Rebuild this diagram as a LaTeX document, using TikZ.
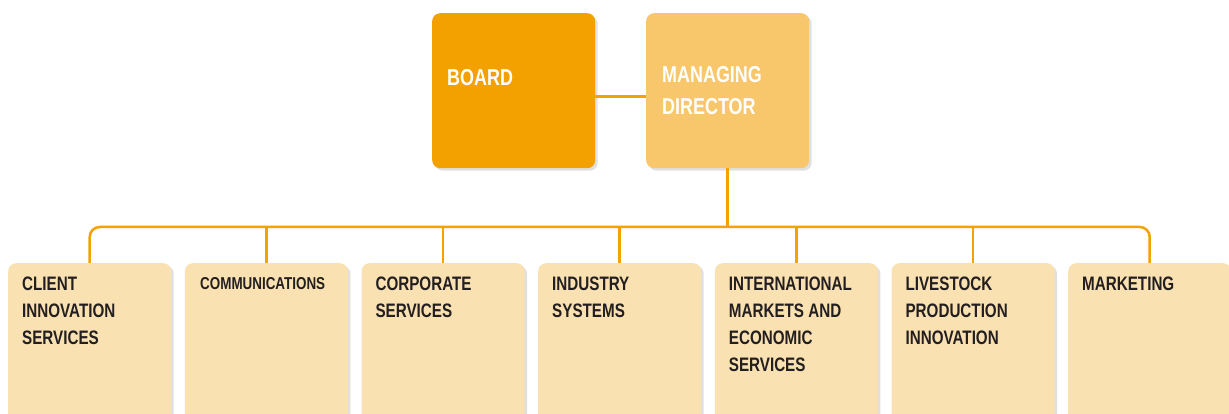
\documentclass[tikz,border=0pt]{standalone}
\usepackage{fontspec}
\newfontfamily\orgfont[FakeStretch=0.78]{Liberation Sans}
\usepackage{tikz}
\usetikzlibrary{shadows}
\definecolor{boardorange}{HTML}{F3A100}
\definecolor{mdorange}{HTML}{F8C66B}
\definecolor{unitcream}{HTML}{FAE1B2}
\definecolor{linkorange}{HTML}{F3A200}
\definecolor{inkdark}{HTML}{231F20}

\begin{document}
\begin{tikzpicture}[x=1pt,y=1pt,
    box/.style={rectangle,rounded corners=8pt,inner sep=0pt,anchor=north west,
      minimum width=163pt,
      drop shadow={shadow xshift=2.5pt,shadow yshift=-2.5pt,opacity=0.12,fill=black}},
    toplbl/.style={anchor=north west,inner sep=0pt,align=left,text=white,
      font=\orgfont\bfseries\fontsize{23}{32}\selectfont},
    unitlbl/.style={anchor=north west,inner sep=0pt,align=left,text=inkdark,
      font=\orgfont\bfseries\fontsize{19.5}{27}\selectfont},
    link/.style={draw=linkorange,line width=2.5pt}]
  \useasboundingbox (0,0) rectangle (1229,414);
  % top level
  \node[box,fill=boardorange,minimum height=155pt] (board) at (432,401) {};
  \node[box,fill=mdorange,minimum height=155pt] (md) at (646,401) {};
  \node[toplbl] (boardlbl) at (447,345) {BOARD};
  \node[toplbl] (mdlbl) at (662,348) {MANAGING\\DIRECTOR};
  \draw[link] ([yshift=-6pt]board.east) -- ([yshift=-6pt]md.west);
  % divisions
  \foreach \i/\txt in {1/{CLIENT\\INNOVATION\\SERVICES},
                       2/{},
                       3/{CORPORATE\\SERVICES},
                       4/{INDUSTRY\\SYSTEMS},
                       5/{INTERNATIONAL\\MARKETS AND\\ECONOMIC\\SERVICES},
                       6/{LIVESTOCK\\PRODUCTION\\INNOVATION},
                       7/{MARKETING}}
  {
    \node[box,fill=unitcream,minimum height=167pt] (u\i) at ({8+176.67*(\i-1)},151) {};
    \node[unitlbl] (u\i lbl) at ({22+176.67*(\i-1)},137) {\txt};
  }
  \node[unitlbl,font=\orgfont\bfseries\fontsize{17.2}{22}\selectfont] (commlbl)
    at (200,137) {COMMUNICATIONS};
  % links
  \coordinate (bus) at (0,187);
  \draw[link] (md.south) -- (md.south |- bus);
  \draw[link,rounded corners=10pt] (u1.north) -- (u1.north |- bus)
    -- (u7.north |- bus) -- (u7.north);
  \foreach \i in {2,...,6}
    \draw[link] (u\i.north) -- (u\i.north |- bus);
\end{tikzpicture}
\end{document}
